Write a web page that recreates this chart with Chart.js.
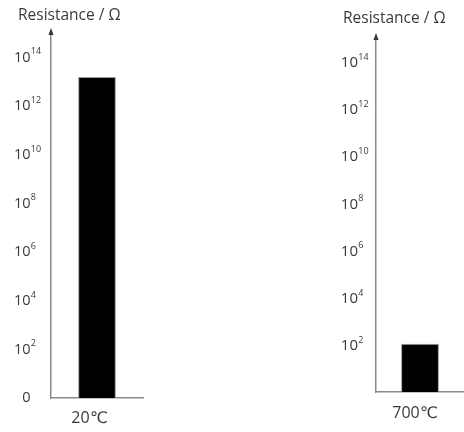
<!DOCTYPE html>
<html>
<head>
<meta charset="utf-8">
<script src="https://cdn.jsdelivr.net/npm/chart.js@4/dist/chart.umd.min.js"></script>
<style>
  html, body { margin: 0; padding: 0; background: #fff; }
  body { width: 464px; height: 432px; position: relative; overflow: hidden; }
  .panel { position: absolute; top: 0; height: 432px; }
  #left { left: 0; width: 160px; }
  #right { left: 300px; width: 164px; }
</style>
</head>
<body>
<div class="panel" id="left"><canvas id="c1"></canvas></div>
<div class="panel" id="right"><canvas id="c2"></canvas></div>
<script>
// ---- data ----
const categoriesLeft = ['20℃'];
const valuesLeft = [1.55e13];
const categoriesRight = ['700℃'];
const valuesRight = [110];
const tickValues = [1, 1e2, 1e4, 1e6, 1e8, 1e10, 1e12, 1e14];
const tickBaseLeft = ['0', '10', '10', '10', '10', '10', '10', '10'];
const tickBaseRight = ['', '10', '10', '10', '10', '10', '10', '10'];
const tickExponents = ['', '2', '4', '6', '8', '10', '12', '14'];
const axisTitle = 'Resistance / Ω';

const FONT = '"Open Sans", "DejaVu Sans", sans-serif';
const TEXT = '#3a3a3a';
const AXIS = '#8a8a8a';

function makeChart(id, cats, vals, bases, cfg) {
  const decor = {
    id: 'decor',
    afterDraw(chart) {
      const ctx = chart.ctx;
      const a = chart.chartArea;
      const ys = chart.scales.y;
      ctx.save();
      // arrow head on the y axis
      ctx.fillStyle = '#333';
      ctx.beginPath();
      ctx.moveTo(a.left, a.top - 5);
      ctx.lineTo(a.left - 2.5, a.top + 2);
      ctx.lineTo(a.left + 2.5, a.top + 2);
      ctx.closePath();
      ctx.fill();
      // axis title
      ctx.fillStyle = TEXT;
      ctx.font = '15.5px ' + FONT;
      ctx.textBaseline = 'middle';
      ctx.textAlign = 'left';
      ctx.fillText(axisTitle, cfg.titleX, cfg.titleY);
      // tick labels with superscript exponents
      ctx.textBaseline = 'alphabetic';
      tickValues.forEach((v, i) => {
        const y = ys.getPixelForValue(v) + cfg.tickDy;
        const bx = a.left - cfg.baseGap;
        ctx.font = cfg.baseSize + 'px ' + FONT;
        ctx.textAlign = 'right';
        ctx.fillText(bases[i], bx, y + 5.3);
        if (tickExponents[i]) {
          ctx.font = '9px ' + FONT;
          ctx.textAlign = 'left';
          ctx.fillText(tickExponents[i], bx + 0.3, y - 2);
        }
      });
      ctx.restore();
    }
  };
  return new Chart(document.getElementById(id), {
    type: 'bar',
    data: {
      labels: cats,
      datasets: [{
        data: vals,
        backgroundColor: '#000',
        borderColor: '#9a9a9a',
        borderWidth: 1,
        barPercentage: cfg.barPct,
        categoryPercentage: 1
      }]
    },
    options: {
      responsive: true,
      maintainAspectRatio: false,
      animation: false,
      layout: { padding: { top: cfg.top, left: 0, right: cfg.right, bottom: 0 } },
      plugins: { legend: { display: false }, tooltip: { enabled: false } },
      scales: {
        x: {
          type: 'category',
          grid: { display: false, drawTicks: false },
          border: { display: true, color: AXIS, width: 1.5 },
          ticks: { color: TEXT, font: { size: 16, family: FONT }, padding: cfg.xPad, labelOffset: cfg.labelOffset, maxRotation: 0 },
          afterFit(s) { s.height = cfg.xHeight; }
        },
        y: {
          type: 'logarithmic',
          min: 1,
          max: 1e15,
          grid: { display: false, drawTicks: false },
          border: { display: true, color: AXIS, width: 1.5 },
          afterBuildTicks(s) { s.ticks = tickValues.map(v => ({ value: v })); },
          ticks: { display: false },
          afterFit(s) { s.width = cfg.yWidth; }
        }
      }
    },
    plugins: [decor]
  });
}

makeChart('c1', categoriesLeft, valuesLeft, tickBaseLeft, {
  top: 33, right: 17, xHeight: 34, yWidth: 51, barPct: 0.41, xPad: 11, labelOffset: -7.5,
  baseGap: 20.5, baseSize: 14.5, tickDy: -1, titleX: 18, titleY: 16
});
makeChart('c2', categoriesRight, valuesRight, tickBaseRight, {
  top: 38, right: 0, xHeight: 40, yWidth: 76, barPct: 0.43, xPad: 12, labelOffset: -5,
  baseGap: 18, baseSize: 15, tickDy: 0, titleX: 43, titleY: 19
});
</script>
</body>
</html>
